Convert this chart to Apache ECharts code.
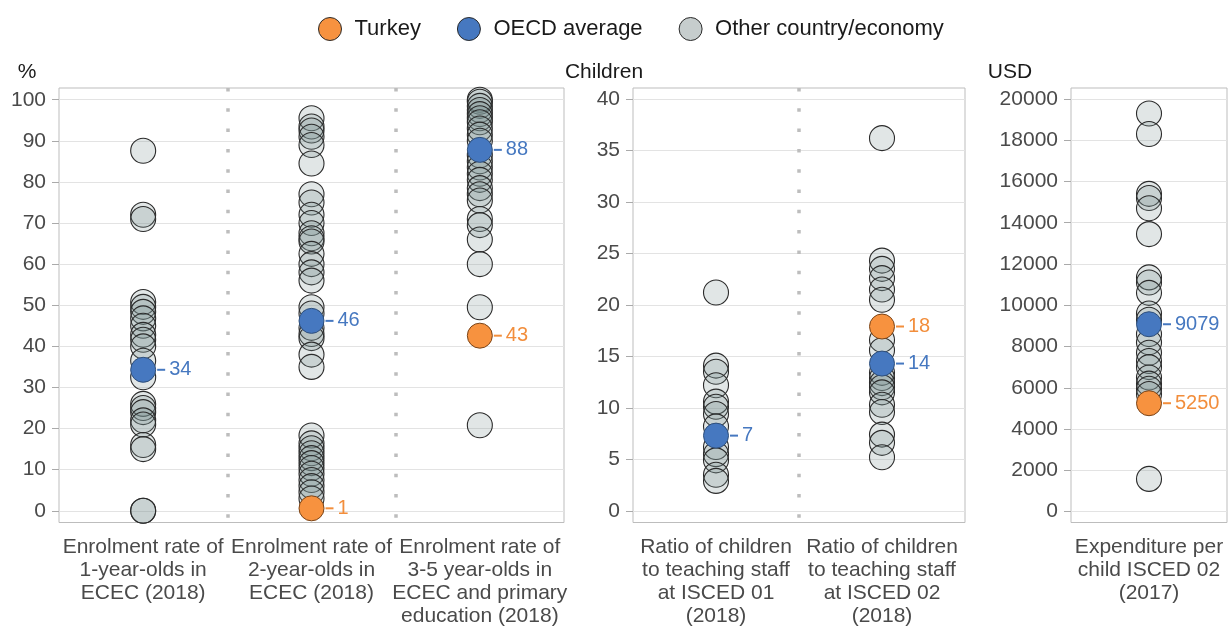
<!DOCTYPE html>
<html>
<head>
<meta charset="utf-8">
<script src="https://cdn.jsdelivr.net/npm/echarts@6/dist/echarts.min.js"></script>
<style>
html,body{margin:0;padding:0;background:#fff;}
#chart{width:1231px;height:630px;}
</style>
</head>
<body>
<div id="chart"></div>
<script>
// ---------- Data ----------
const legendNames = ['Turkey', 'OECD average', 'Other country/economy'];

const catsPercent = ['Enrolment rate of\n1-year-olds in\nECEC (2018)', 'Enrolment rate of\n2-year-olds in\nECEC (2018)', 'Enrolment rate of\n3-5 year-olds in\nECEC and primary\neducation (2018)'];
const catsChildren = ['Ratio of children\nto teaching staff\nat ISCED 01\n(2018)', 'Ratio of children\nto teaching staff\nat ISCED 02\n(2018)'];
const catsUSD = ['Expenditure per\nchild ISCED 02\n(2017)'];

// Other countries, one array per indicator
const otherEnrol1 = [87.6, 72, 71, 50.8, 49.6, 48.4, 46.8, 45, 42.8, 41.6, 40, 36.5, 32.5, 26, 25, 24, 22, 21, 16, 15, 0, 0];
const otherEnrol2 = [95.5, 93.5, 92.5, 91, 89, 84.5, 77, 75, 72, 70, 67.5, 66.3, 65.5, 62.5, 60, 58, 56, 49.5, 48, 44.5, 43, 42, 38, 35, 18.3, 16.4, 15.2, 14, 12.8, 11.6, 10.4, 9, 7.5, 6, 4.5, 3];
const otherEnrol35 = [100, 99.5, 98.5, 97.5, 96.5, 95.5, 94.5, 93, 91.5, 90, 86.5, 85, 83.5, 82, 80.5, 78.5, 77, 75.5, 71, 69.5, 66, 60, 49.5, 20.8];
const otherRatio01 = [21.2, 14.1, 13.5, 12.2, 10.6, 10.1, 9.4, 8.2, 6.2, 5.5, 4.9, 3.5, 2.9];
const otherRatio02 = [36.2, 24.3, 23.5, 22.6, 21.5, 20.5, 16.6, 15.6, 13.4, 12.9, 12.4, 12, 11.5, 10.3, 9.6, 7.4, 6.6, 5.2];
const otherExpend = [19300, 18300, 15400, 15200, 14700, 13450, 11350, 11100, 10600, 9600, 9300, 8600, 8200, 7700, 7300, 7000, 6500, 6200, 5950, 5700, 1580];

// Turkey and OECD average (null = not available)
const turkeyPercent = [null, 0.6, 42.6];
const oecdPercent = [34.3, 46.2, 87.8];
const turkeyChildren = [null, 17.9];
const oecdChildren = [7.3, 14.3];
const turkeyUSD = [5250];
const oecdUSD = [9079];

// Axis names
const yNames = ['%', 'Children', 'USD'];

// ---------- Styles ----------
const COL_TUR = '#f7923f';
const COL_OECD = '#4678c0';
const COL_OTHER = 'rgba(120,140,140,0.22)';
const COL_OTHER_LEG = '#c6cdcd';
const BORDER = '#2b2b2b';
const FONT = 'Liberation Sans, Arial, sans-serif';
const TXT = '#4a4a4a';
const FS = 21;

const groups = [
  { cats: catsPercent, others: [otherEnrol1, otherEnrol2, otherEnrol35], tur: turkeyPercent, oecd: oecdPercent,
    left: 59, width: 505, min: -2.85, max: 102.85, split: 10, namePad: 64 },
  { cats: catsChildren, others: [otherRatio01, otherRatio02], tur: turkeyChildren, oecd: oecdChildren,
    left: 633, width: 332, min: -1.14, max: 41.07, split: 8, namePad: 58 },
  { cats: catsUSD, others: [otherExpend], tur: turkeyUSD, oecd: oecdUSD,
    left: 1071, width: 156, min: -533, max: 20533, split: 10, namePad: 122 }
];

const grids = [], xAxes = [], yAxes = [], series = [];

function labelFor(color) {
  return {
    show: true, position: 'right', distance: 1,
    formatter: p => '{d| }{v|' + Math.round(p.value[1]) + '}',
    rich: {
      d: { width: 8, height: 2, backgroundColor: color, verticalAlign: 'middle' },
      v: { color: color, fontSize: 20, fontFamily: FONT, padding: [0, 0, 0, 4], verticalAlign: 'middle' }
    }
  };
}

groups.forEach((g, gi) => {
  grids.push({ left: g.left, width: g.width, top: 88, height: 434.5, show: true,
    borderColor: '#bdbdbd', borderWidth: 1, backgroundColor: 'transparent', containLabel: false });
  xAxes.push({
    type: 'category', gridIndex: gi, data: g.cats,
    axisLine: { show: false }, axisTick: { show: false },
    axisLabel: { interval: 0, color: TXT, fontSize: FS, fontFamily: FONT, lineHeight: 23, margin: 13, align: 'center' },
    splitLine: { show: true, interval: 0, showMinLine: false, showMaxLine: false,
      lineStyle: { color: '#bdbdbd', width: 3.5, type: [3.5, 16.8] } }
  });
  yAxes.push({
    type: 'value', gridIndex: gi, min: g.min, max: g.max, splitNumber: g.split,
    name: yNames[gi], nameLocation: 'end', nameGap: 16,
    nameTextStyle: { color: '#1a1a1a', fontSize: FS, fontFamily: FONT, align: 'center', verticalAlign: 'middle', padding: [0, g.namePad, 0, 0] },
    axisLine: { show: false },
    axisTick: { show: true, length: 7, lineStyle: { color: '#aaaaaa' } },
    axisLabel: { color: TXT, fontSize: FS, fontFamily: FONT, margin: 13, showMinLabel: false, showMaxLabel: false,
      formatter: v => String(Math.round(v)) },
    splitLine: { show: true, showMinLine: false, showMaxLine: false, lineStyle: { color: '#e3e3e3', width: 1 } }
  });

  const otherData = [];
  g.others.forEach((arr, ci) => arr.forEach(v => otherData.push([ci, v])));
  series.push({
    name: 'Other country/economy', type: 'scatter', xAxisIndex: gi, yAxisIndex: gi,
    data: otherData, symbol: 'circle', symbolSize: 25, z: 2,
    itemStyle: { color: COL_OTHER, borderColor: BORDER, borderWidth: 1.1, opacity: 1 }
  });
  const oecdData = [];
  g.oecd.forEach((v, ci) => { if (v !== null) oecdData.push([ci, v]); });
  series.push({
    name: 'OECD average', type: 'scatter', xAxisIndex: gi, yAxisIndex: gi,
    data: oecdData, symbol: 'circle', symbolSize: 25, z: 3,
    itemStyle: { color: COL_OECD, borderColor: '#2f4f7a', borderWidth: 1, opacity: 1 },
    label: labelFor(COL_OECD)
  });
  const turData = [];
  g.tur.forEach((v, ci) => { if (v !== null) turData.push([ci, v]); });
  series.push({
    name: 'Turkey', type: 'scatter', xAxisIndex: gi, yAxisIndex: gi,
    data: turData, symbol: 'circle', symbolSize: 25, z: 4,
    itemStyle: { color: COL_TUR, borderColor: '#7a4418', borderWidth: 1, opacity: 1 },
    label: labelFor('#f28e3c')
  });
});

const chart = echarts.init(document.getElementById('chart'), null, { renderer: 'canvas' });
chart.setOption({
  animation: false,
  backgroundColor: '#ffffff',
  textStyle: { fontFamily: FONT },
  legend: {
    top: 12, left: 313, icon: 'circle', itemWidth: 23, itemHeight: 23, itemGap: 36,
    textStyle: { color: '#1a1a1a', fontSize: 22, fontFamily: FONT, padding: [0, 0, 0, 8] },
    data: [
      { name: 'Turkey', itemStyle: { color: COL_TUR, borderColor: BORDER, borderWidth: 1, opacity: 1 } },
      { name: 'OECD average', itemStyle: { color: COL_OECD, borderColor: BORDER, borderWidth: 1, opacity: 1 } },
      { name: 'Other country/economy', itemStyle: { color: COL_OTHER_LEG, borderColor: BORDER, borderWidth: 1, opacity: 1 } }
    ]
  },
  grid: grids, xAxis: xAxes, yAxis: yAxes, series: series
});
</script>
</body>
</html>
